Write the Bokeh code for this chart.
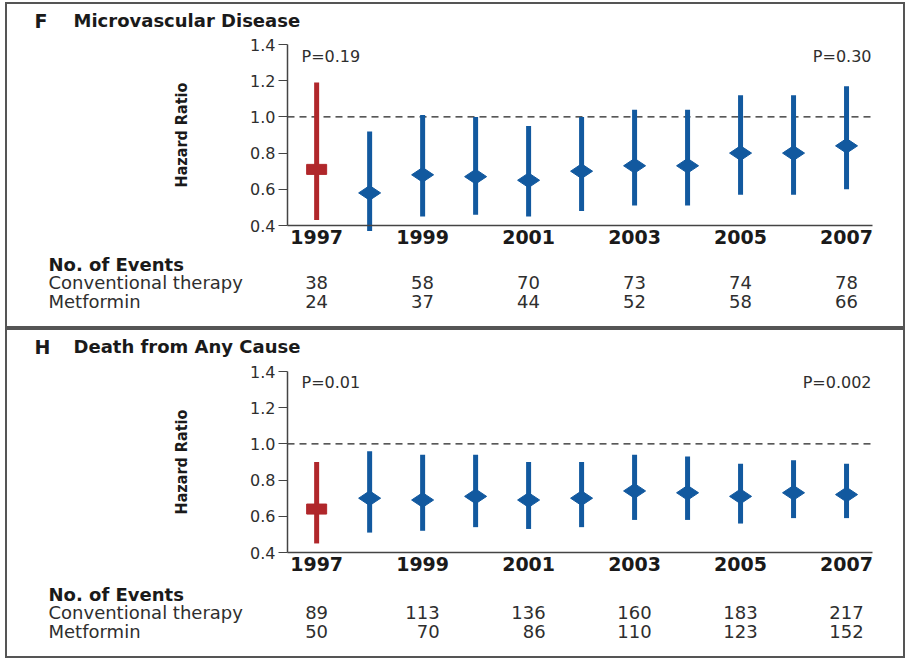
import math

from bokeh.embed import file_html
from bokeh.layouts import column
from bokeh.models import ColumnDataSource, FixedTicker, Label, NumeralTickFormatter, Range1d
from bokeh.plotting import figure
from bokeh.resources import INLINE

# ---- data -------------------------------------------------------------
years = [1997, 1998, 1999, 2000, 2001, 2002, 2003, 2004, 2005, 2006, 2007]

# F: microvascular disease, hazard ratio with 95% CI
hr_micro = [0.71, 0.58, 0.68, 0.67, 0.65, 0.70, 0.73, 0.73, 0.80, 0.80, 0.84]
lo_micro = [0.43, 0.37, 0.45, 0.46, 0.45, 0.48, 0.51, 0.51, 0.57, 0.57, 0.60]
hi_micro = [1.19, 0.92, 1.01, 1.00, 0.95, 1.00, 1.04, 1.04, 1.12, 1.12, 1.17]

# H: death from any cause, hazard ratio with 95% CI
hr_death = [0.64, 0.70, 0.69, 0.71, 0.69, 0.70, 0.74, 0.73, 0.71, 0.73, 0.72]
lo_death = [0.45, 0.51, 0.52, 0.54, 0.53, 0.54, 0.58, 0.58, 0.56, 0.59, 0.59]
hi_death = [0.90, 0.96, 0.94, 0.94, 0.90, 0.90, 0.94, 0.93, 0.89, 0.91, 0.89]

event_years = [1997, 1999, 2001, 2003, 2005, 2007]
conv_micro = [38, 58, 70, 73, 74, 78]
met_micro = [24, 37, 44, 52, 58, 66]
conv_death = [89, 113, 136, 160, 183, 217]
met_death = [50, 70, 86, 110, 123, 152]

y_ticks = [0.4, 0.6, 0.8, 1.0, 1.2, 1.4]
HR_LO, HR_HI = 0.4, 1.4          # extent of the hazard-ratio axis
YR_LO, YR_HI = 1996.45, 2007.49  # extent of the calendar-year axis

BLUE = "#12599f"
RED = "#b0272b"
INK = "#1a1a1a"
GREY = "#2e2e2e"
FONT = "DejaVu Sans"

W = 900                  # panel width in px
AX_X0, AX_X1 = 282, 867  # pixel columns of the year-axis ends
DIGIT_W = 11.4           # width of one digit at the table font size


def panel(letter, title, hr, lo, hi, conv, met, p_left, p_right, height, y_top_px, y_bot_px):
    # The plotting frame fills the whole panel; the axes sit at fixed data positions
    # inside it, leaving room for the heading and the events table.
    sx = (AX_X1 - AX_X0) / (YR_HI - YR_LO)
    sy = (y_bot_px - y_top_px) / (HR_HI - HR_LO)
    x_range = Range1d(YR_LO - AX_X0 / sx, YR_HI + (W - AX_X1) / sx)
    y_range = Range1d(HR_LO - (height - y_bot_px) / sy, HR_HI + y_top_px / sy)

    p = figure(width=W, height=height, x_range=x_range, y_range=y_range,
               output_backend="svg", toolbar_location=None,
               min_border=0, min_border_left=0, min_border_right=0,
               min_border_top=0, min_border_bottom=0)
    p.outline_line_color = "#555555"
    p.outline_line_width = 3
    p.grid.visible = False

    # hazard-ratio axis
    yax = p.yaxis[0]
    yax.fixed_location = YR_LO
    yax.ticker = FixedTicker(ticks=y_ticks)
    yax.formatter = NumeralTickFormatter(format="0.0")
    yax.bounds = (HR_LO, HR_HI)
    yax.axis_line_color = "#444444"
    yax.axis_line_width = 1.5
    yax.major_tick_line_color = "#444444"
    yax.major_tick_out = 9
    yax.major_tick_in = 0
    yax.minor_tick_line_color = None
    yax.major_label_text_font = FONT
    yax.major_label_text_font_size = "16px"
    yax.major_label_text_color = GREY
    yax.major_label_standoff = 3
    yax.axis_label = "Hazard Ratio"
    yax.axis_label_text_font = "DejaVu Sans Condensed"
    yax.axis_label_text_font_style = "bold"
    yax.axis_label_text_font_size = "16px"
    yax.axis_label_text_color = INK
    yax.axis_label_standoff = 56

    # year axis sits on HR = 0.4
    xax = p.xaxis[0]
    xax.fixed_location = HR_LO
    xax.bounds = (YR_LO, YR_HI)
    xax.ticker = FixedTicker(ticks=event_years)
    xax.axis_line_color = "#444444"
    xax.axis_line_width = 1.5
    xax.major_tick_out = 0
    xax.major_tick_in = 0
    xax.minor_tick_line_color = None
    xax.major_label_text_font = FONT
    xax.major_label_text_font_style = "bold"
    xax.major_label_text_font_size = "19px"
    xax.major_label_text_color = INK
    xax.major_label_standoff = 4

    # reference line at HR = 1 across the year axis
    p.segment(x0=[YR_LO], y0=[1.0], x1=[YR_HI], y1=[1.0],
              line_color="#222222", line_width=1.2, line_dash="7 5")

    first = ColumnDataSource(dict(x=years[:1], hr=hr[:1], lo=lo[:1], hi=hi[:1]))
    rest = ColumnDataSource(dict(x=years[1:], hr=hr[1:], lo=lo[1:], hi=hi[1:]))

    p.segment(x0="x", y0="lo", x1="x", y1="hi", source=rest, line_color=BLUE, line_width=5)
    p.scatter(x="x", y="hr", source=rest, marker="diamond", size=22, angle=math.pi / 2,
              fill_color=BLUE, line_color=BLUE)
    p.segment(x0="x", y0="lo", x1="x", y1="hi", source=first, line_color=RED, line_width=5)
    p.rect(x="x", y="hr", width=20, height=10, width_units="screen", height_units="screen",
           source=first, fill_color=RED, line_color=RED)

    def lab(text, x, y, size="18px", style="normal", align="left", xu="screen", color=INK, xo=0):
        p.add_layout(Label(x=x, y=y, x_units=xu, y_units="screen", text=text,
                           text_font=FONT, text_font_size=size, text_font_style=style,
                           text_align=align, text_baseline="middle", text_color=color,
                           x_offset=xo))

    # y positions below are measured up from the panel's bottom edge
    top_y = height - 18
    lab(letter, 29, top_y, size="19px", style="bold")
    lab(title, 68, top_y, size="18px", style="bold")

    p_y = height - 54
    lab(p_left, 296, p_y, size="16px", color=GREY)
    lab(p_right, 866, p_y, size="16px", color=GREY, align="right")

    lab("No. of Events", 43, 64, size="18px", style="bold")
    lab("Conventional therapy", 43, 46, size="18px", color=GREY)
    lab("Metformin", 43, 27, size="18px", color=GREY)
    for yr, c, m in zip(event_years, conv, met):
        half = max(len(str(c)), len(str(m))) * DIGIT_W / 2
        lab(str(c), yr, 46, color=GREY, align="right", xu="data", xo=half)
        lab(str(m), yr, 27, color=GREY, align="right", xu="data", xo=half)
    return p


top = panel("F", "Microvascular Disease", hr_micro, lo_micro, hi_micro, conv_micro, met_micro,
            "P=0.19", "P=0.30", 326, 42, 223)
bottom = panel("H", "Death from Any Cause", hr_death, lo_death, hi_death, conv_death, met_death,
               "P=0.01", "P=0.002", 330, 43, 224)

layout = column(top, bottom, spacing=0, styles={"margin-left": "5px", "margin-top": "2px"})
open("out.html", "w").write(file_html(layout, INLINE))
